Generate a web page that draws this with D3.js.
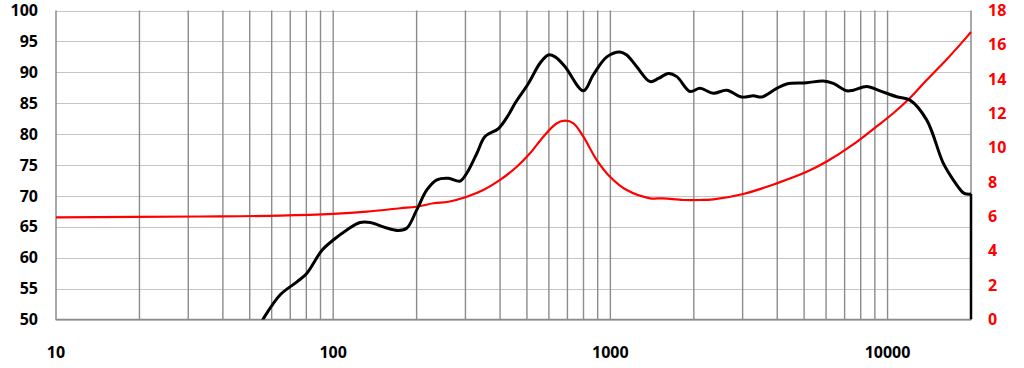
<!DOCTYPE html>
<html>
<head>
<meta charset="utf-8">
<script src="https://cdn.jsdelivr.net/npm/d3@7"></script>
<style>
  html, body { margin: 0; padding: 0; background: #fff; }
  svg text { font-family: "Open Sans", "DejaVu Sans", sans-serif; font-weight: 700; font-size: 16px; }
</style>
</head>
<body>
<svg id="chart" width="1024" height="368"></svg>
<script>
// SPL response (Hz, dB); last point is the cut-off at the top of the range
const splFreq = [55, 56.1, 64.4, 74.0, 80.4, 91.1, 100.3, 112, 125, 136, 156, 172, 184.5, 200, 218, 236.6, 260.5, 287, 303.5, 330, 353, 394.6, 428.7, 453, 506, 558, 597.6, 632, 686.4, 799, 868, 971, 1084, 1146, 1245, 1391, 1490, 1619, 1736, 1939, 2106, 2352, 2628, 2978, 3280, 3516, 3982, 4326, 5108, 5863, 6372, 7120, 7521, 8404, 9389, 10785, 12043, 13837, 15883, 17257, 18750, 19300, 20000, 20000];
const splDb = [49.5, 50.2, 54.0, 56.1, 57.5, 61.2, 62.9, 64.5, 65.7, 65.7, 64.8, 64.4, 64.8, 67.7, 71.0, 72.6, 72.85, 72.4, 73.7, 76.9, 79.6, 80.9, 83.1, 85.0, 88.2, 91.5, 92.8, 92.5, 90.9, 87.0, 89.6, 92.5, 93.3, 92.8, 90.9, 88.5, 89.0, 89.8, 89.3, 86.9, 87.4, 86.6, 87.1, 86.0, 86.2, 86.0, 87.4, 88.1, 88.3, 88.6, 88.2, 87.0, 87.1, 87.7, 87.0, 86.05, 85.5, 82.3, 75.3, 72.6, 70.5, 70.3, 70.3, 50];

// Impedance (Hz, ohm)
const impFreq = [10, 33, 64.4, 100, 132.3, 174.4, 200, 230, 260.5, 303.5, 348, 400, 459.6, 513, 573, 641, 686, 735.7, 799, 893, 997, 1146, 1391, 1553, 1833, 2106, 2352, 3018, 3982, 5108, 6032, 7521, 9135, 10460, 12043, 13837, 16335, 19290, 20000];
const impOhm = [5.95, 6.0, 6.05, 6.15, 6.28, 6.48, 6.57, 6.77, 6.86, 7.15, 7.54, 8.13, 8.9, 9.68, 10.65, 11.43, 11.58, 11.43, 10.65, 9.29, 8.32, 7.54, 7.06, 7.06, 6.96, 6.96, 7.0, 7.31, 7.93, 8.6, 9.2, 10.2, 11.25, 12.0, 12.9, 13.95, 15.15, 16.45, 16.75];

const xTicks = [10, 100, 1000, 10000];
const dbTicks = d3.range(50, 101, 5);
const ohmTicks = d3.range(0, 19, 2);
const gridFreqs = [20, 30, 40, 50, 60, 70, 80, 90, 100, 200, 300, 400, 500, 600, 700, 800, 900, 1000, 2000, 3000, 4000, 5000, 6000, 7000, 8000, 9000, 10000];

const svg = d3.select('#chart');
const plotLeft = 56, plotRight = 971, plotTop = 10.5, plotBottom = 319.5;

const x = d3.scaleLog().domain([10, 20000]).range([plotLeft, plotRight]);
const yDb = d3.scaleLinear().domain([50, 100]).range([plotBottom, plotTop]);
const yOhm = d3.scaleLinear().domain([0, 18]).range([plotBottom, plotTop]);

svg.append('defs').append('clipPath').attr('id', 'plot')
  .append('rect')
  .attr('x', plotLeft).attr('y', plotTop - 2)
  .attr('width', plotRight - plotLeft + 2).attr('height', plotBottom - plotTop + 2);

// horizontal grid
svg.append('g')
  .selectAll('line')
  .data(dbTicks)
  .enter()
  .append('line')
  .attr('x1', plotLeft).attr('x2', plotRight)
  .attr('y1', d => Math.round(yDb(d)) + 0.5)
  .attr('y2', d => Math.round(yDb(d)) + 0.5)
  .attr('stroke', '#c4c4c4')
  .attr('stroke-width', 1);

// vertical grid
svg.append('g')
  .selectAll('line')
  .data(gridFreqs)
  .enter()
  .append('line')
  .attr('x1', d => x(d)).attr('x2', d => x(d))
  .attr('y1', plotTop).attr('y2', plotBottom)
  .attr('stroke', '#8c8c8c')
  .attr('stroke-width', 1.4);

// frame
svg.append('path')
  .attr('d', `M${plotLeft},${plotTop} V${plotBottom} H${plotRight} V${plotTop}`)
  .attr('fill', 'none')
  .attr('stroke', '#8c8c8c')
  .attr('stroke-width', 1.5);

// curves
const plot = svg.append('g').attr('clip-path', 'url(#plot)');

const impLine = d3.line()
  .x(d => x(d[0]))
  .y(d => yOhm(d[1]))
  .curve(d3.curveCatmullRom.alpha(0.5));

plot.append('path')
  .datum(impFreq.map((f, i) => [f, impOhm[i]]))
  .attr('d', impLine)
  .attr('fill', 'none')
  .attr('stroke', '#ff0000')
  .attr('stroke-width', 2.2);

const splPoints = splFreq.map((f, i) => [f, splDb[i]]);
const splLine = d3.line()
  .x(d => x(d[0]))
  .y(d => yDb(d[1]))
  .curve(d3.curveCatmullRom.alpha(0.5));

// smooth part, then the straight drop at the end
plot.append('path')
  .datum(splPoints.slice(0, -1))
  .attr('d', splLine)
  .attr('fill', 'none')
  .attr('stroke', '#000')
  .attr('stroke-width', 3)
  .attr('stroke-linejoin', 'round');

plot.append('path')
  .datum(splPoints.slice(-2))
  .attr('d', splLine.curve(d3.curveLinear))
  .attr('fill', 'none')
  .attr('stroke', '#000')
  .attr('stroke-width', 2.5);

// left labels
svg.append('g')
  .selectAll('text')
  .data(dbTicks)
  .enter()
  .append('text')
  .attr('x', 38)
  .attr('y', d => yDb(d))
  .attr('dy', '0.35em')
  .attr('text-anchor', 'end')
  .attr('fill', '#000')
  .text(d => d);

// right labels
svg.append('g')
  .selectAll('text')
  .data(ohmTicks)
  .enter()
  .append('text')
  .attr('x', 988)
  .attr('y', d => yOhm(d))
  .attr('dy', '0.35em')
  .attr('text-anchor', 'start')
  .attr('fill', '#ff0000')
  .text(d => d);

// x labels
svg.append('g')
  .selectAll('text')
  .data(xTicks)
  .enter()
  .append('text')
  .attr('x', d => x(d))
  .attr('y', 352)
  .attr('dy', '0.35em')
  .attr('text-anchor', 'middle')
  .attr('fill', '#000')
  .text(d => d);
</script>
</body>
</html>
